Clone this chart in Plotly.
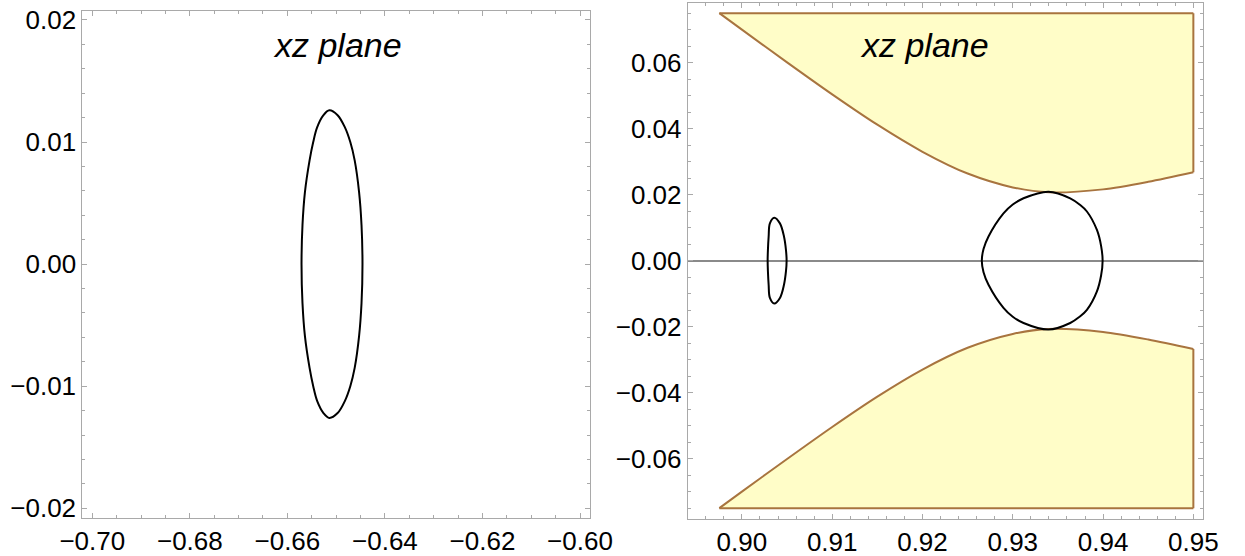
import plotly.graph_objs as go

# left panel: closed curve near x=-0.65
left_x = [-0.6514, -0.6497, -0.6482, -0.6471, -0.6462, -0.6453, -0.6448, -0.6446, -0.6448, -0.6453, -0.6462, -0.6471, -0.6482, -0.6497, -0.6514,
          -0.6526, -0.6539, -0.6547, -0.65545, -0.6564, -0.6569, -0.6571, -0.6569, -0.6564, -0.65545, -0.6547, -0.6539, -0.6526, -0.6514]
left_z = [0.0126, 0.0122, 0.0112, 0.0100, 0.0085, 0.0059, 0.0032, 0.0, -0.0032, -0.0059, -0.0085, -0.0100, -0.0112, -0.0122, -0.0126,
          -0.0122, -0.0112, -0.0100, -0.0085, -0.0059, -0.0032, 0.0, 0.0032, 0.0059, 0.0085, 0.0100, 0.0112, 0.0122, 0.0126]

# right panel: small loop near x=0.904
small_x = [0.90358, 0.90421, 0.90466, 0.90488, 0.90495, 0.90488, 0.90466, 0.90421, 0.90358,
           0.90310, 0.90296, 0.90288, 0.90285, 0.90288, 0.90296, 0.90310, 0.90358]
small_z = [0.0130, 0.0113, 0.0073, 0.0032, 0.0, -0.0032, -0.0073, -0.0113, -0.0130,
           -0.0113, -0.0073, -0.0032, 0.0, 0.0032, 0.0073, 0.0113, 0.0130]

# right panel: big loop near x=0.933
big_x = [0.93396, 0.93636, 0.93740, 0.93821, 0.93932, 0.93978, 0.93995, 0.93978, 0.93932, 0.93821, 0.93740, 0.93636, 0.93396,
         0.93119, 0.93000, 0.92897, 0.92731, 0.92676, 0.92657, 0.92676, 0.92731, 0.92897, 0.93000, 0.93119, 0.93396]
big_z = [0.0209, 0.0189, 0.0170, 0.0149, 0.0093, 0.0045, 0.0, -0.0045, -0.0093, -0.0149, -0.0170, -0.0189, -0.0209,
         -0.0189, -0.0170, -0.0143, -0.0073, -0.0035, 0.0, 0.0035, 0.0073, 0.0143, 0.0170, 0.0189, 0.0209]

# forbidden region boundaries (upper / lower), cut at z = +-0.075
bound_x = [0.8975, 0.9000, 0.9050, 0.9100, 0.9150, 0.9200, 0.9250, 0.9300, 0.9340, 0.9400, 0.9450, 0.9500]
bound_up = [0.0750, 0.0700, 0.0601, 0.0504, 0.0412, 0.0330, 0.0264, 0.0222, 0.0207, 0.0216, 0.0239, 0.0268]
bound_lo = [-0.0750, -0.0700, -0.0601, -0.0504, -0.0412, -0.0330, -0.0264, -0.0222, -0.0207, -0.0216, -0.0239, -0.0268]
cap_up = 0.075
cap_lo = -0.075

FILL = '#fffdc8'
EDGE = '#a8743f'
FRAME = '#a9a9a9'


def region(curve_y, cap):
    # cap line first, then the smoothed curve filled to it, then the straight edges on top
    xs = [bound_x[0], bound_x[-1]]
    return [
        go.Scatter(x=xs, y=[cap, cap], mode='lines', line=dict(width=0), xaxis='x2', yaxis='y2'),
        go.Scatter(x=bound_x, y=curve_y, mode='lines', fill='tonexty', fillcolor=FILL,
                   line=dict(color=EDGE, width=2, shape='spline', smoothing=0.8), xaxis='x2', yaxis='y2'),
        go.Scatter(x=xs, y=[cap, cap], mode='lines', line=dict(color=EDGE, width=2), xaxis='x2', yaxis='y2'),
        go.Scatter(x=[bound_x[-1], bound_x[-1]], y=[curve_y[-1], cap], mode='lines',
                   line=dict(color=EDGE, width=2), xaxis='x2', yaxis='y2'),
    ]


data = [go.Scatter(x=left_x, y=left_z, mode='lines', line=dict(color='black', width=2, shape='spline'),
                   xaxis='x', yaxis='y')]
data += region(bound_up, cap_up)
data += region(bound_lo, cap_lo)
data += [
    go.Scatter(x=small_x, y=small_z, mode='lines', line=dict(color='black', width=2, shape='spline'),
               xaxis='x2', yaxis='y2'),
    go.Scatter(x=big_x, y=big_z, mode='lines', line=dict(color='black', width=2, shape='spline', smoothing=1),
               xaxis='x2', yaxis='y2'),
]


def ax(rng, dtick, minor, domain, **kw):
    return dict(range=rng, dtick=dtick, tickformat='.2f', domain=domain, automargin=False,
                showgrid=False, zeroline=False, showline=True, linecolor=FRAME, linewidth=1,
                mirror='allticks', ticks='inside', ticklen=5, tickcolor=FRAME, tickwidth=1,
                minor=dict(dtick=minor, ticks='inside', ticklen=3, tickcolor=FRAME, showgrid=False),
                tickfont=dict(size=26, color='black'), **kw)


layout = go.Layout(
    width=1245, height=556, margin=dict(l=0, r=0, t=0, b=0),
    plot_bgcolor='white', paper_bgcolor='white', showlegend=False,
    font=dict(family='Liberation Sans, Arial, sans-serif'),
    xaxis=ax([-0.70205, -0.59795], 0.02, 0.005, [0.0661, 0.4739], tick0=-0.70, anchor='y'),
    yaxis=ax([-0.02077, 0.02076], 0.01, 0.002, [0.0689, 0.9808], anchor='x'),
    xaxis2=ax([0.8940, 0.9511], 0.01, 0.002, [0.5524, 0.9665], anchor='y2'),
    yaxis2=ax([-0.0783, 0.0780], 0.02, 0.005, [0.0665, 0.9941], anchor='x2'),
    annotations=[
        dict(x=-0.6497, y=0.01795, xref='x', yref='y', text='<i>xz plane</i>', showarrow=False,
             font=dict(size=34, color='black')),
        dict(x=0.9202, y=0.0654, xref='x2', yref='y2', text='<i>xz plane</i>', showarrow=False,
             font=dict(size=34, color='black')),
    ],
)
layout.yaxis2.update(zeroline=True, zerolinecolor='#8a8a8a', zerolinewidth=1.5)

fig = go.Figure(data, layout)
fig.write_html('out.html', config={'displayModeBar': False},
               post_script="document.body.style.margin='0px';")
